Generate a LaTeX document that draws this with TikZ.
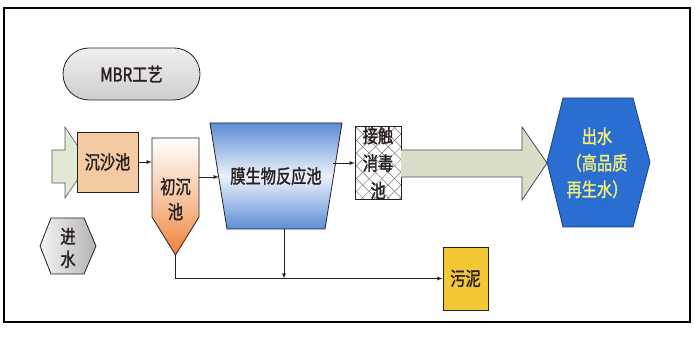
\documentclass[tikz,border=0pt]{standalone}
\usepackage{fontspec}
\setmainfont{Noto Sans CJK SC}[FakeStretch=0.8, FakeBold=1.5]
\usetikzlibrary{patterns.meta}

\definecolor{ink}{RGB}{40,32,30}
\definecolor{sandcol}{RGB}{243,202,162}
\definecolor{precol}{RGB}{238,130,55}
\definecolor{mbrblue}{RGB}{92,142,214}
\definecolor{mbrlight}{RGB}{236,241,250}
\definecolor{arrowcol}{RGB}{216,222,200}
\definecolor{incol}{RGB}{224,232,214}
\definecolor{outblue}{RGB}{42,110,210}
\definecolor{outtext}{RGB}{245,240,120}
\definecolor{mudcol}{RGB}{242,200,52}
\definecolor{meshcol}{RGB}{120,120,120}

\begin{document}
\begin{tikzpicture}[x=1pt,y=-1pt,>=latex,
  every node/.style={font=\fontsize{19}{26}\selectfont, text=ink},
  box/.style={draw=ink, line width=0.8pt, inner sep=0pt},
  pipe/.style={->, draw=ink, line width=0.8pt}]
  \useasboundingbox (0,0) rectangle (695,344);
  \draw[line width=1.2pt] (4,8) rectangle (690,322);

  % title
  \node[box, rounded corners=26pt, top color=gray!12, bottom color=gray!38,
    minimum width=137pt, minimum height=52pt] (title) at (131.5,74) {MBR工艺};

  % inflow arrow and grit chamber
  \draw[draw=gray!70!black, fill=incol, line width=0.6pt]
    (52,150) -- (65,150) -- (65,127) -- (89,163) -- (65,198) -- (65,183) -- (52,183) -- cycle;
  \node[box, fill=sandcol, minimum width=61pt, minimum height=60pt] (sand) at (107.5,162) {沉沙池};

  % primary settling tank
  \draw[draw=ink, line width=0.8pt, top color=white, bottom color=precol, middle color=precol!45]
    (152,138) -- (199,138) -- (199,217) -- (175.5,255) -- (152,217) -- cycle;
  \node[minimum width=47pt, minimum height=80pt, inner sep=0pt] (pre) at (175.5,177) {};
  \node[align=center, font=\fontsize{19}{25}\selectfont] (pretxt) at (175.5,199) {初沉\\池};
  \coordinate (pretip) at (175.5,255);

  % membrane bioreactor
  \draw[draw=ink, line width=0.8pt, top color=mbrblue, bottom color=mbrblue, middle color=mbrlight]
    (210,123) -- (342,123) -- (325,229) -- (227,229) -- cycle;
  \node[minimum width=114pt, minimum height=106pt, inner sep=0pt] (mbr) at (276,176) {膜生物反应池};

  % contact disinfection tank
  \node[box, minimum width=46pt, minimum height=60pt, align=center,
    font=\fontsize{19}{27.5}\selectfont, preaction={fill=white},
    preaction={pattern={Lines[angle=45,distance=9pt,line width=0.5pt]}, pattern color=meshcol},
    pattern={Lines[angle=-45,distance=9pt,line width=0.5pt]}, pattern color=meshcol] (dis) at (378,163) {接触\\消毒\\池};

  % outflow arrow and effluent
  \draw[draw=gray!60!black, fill=arrowcol, line width=0.8pt]
    (401,150) -- (522,150) -- (522,127) -- (547,163) -- (522,200) -- (522,177) -- (401,177);
  \draw[draw=outblue!60!black, fill=outblue, line width=0.8pt]
    (547,162) -- (563,98) -- (633,98) -- (650,162) -- (633,227) -- (563,227) -- cycle;
  \node[align=center, text=outtext, font=\fontsize{19}{26.5}\selectfont] (out) at (597,163) {出水\\（高品质\\再生水）};

  % inflow label
  \draw[draw=ink, line width=0.8pt, left color=gray!8, right color=gray!60]
    (40,246) -- (51,218) -- (84,218) -- (96,246) -- (84,274) -- (51,274) -- cycle;
  \node[align=center, font=\fontsize{19}{23}\selectfont] (inlet) at (68,248) {进\\水};

  % sludge
  \node[box, fill=mudcol, minimum width=45pt, minimum height=63pt] (mud) at (465.5,278.5) {污泥};

  % connectors
  \draw[pipe] (sand.east) -- (sand.east -| pre.west);
  \draw[pipe] (pre.east) -- (pre.east -| mbr.west);
  \draw[pipe] (mbr.east |- dis.west) -- (dis.west);
  \draw[pipe] (pretip) |- (mud.west);
  \draw[pipe] ([xshift=8pt]mbr.south) -- ([xshift=8pt]mbr.south |- mud.west);
\end{tikzpicture}
\end{document}
